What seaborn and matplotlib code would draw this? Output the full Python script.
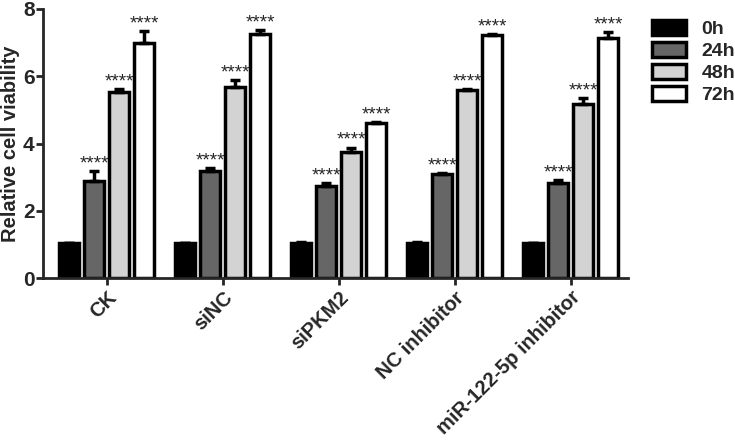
import pandas as pd
import seaborn as sns
import matplotlib.pyplot as plt

# values
groups = ['CK', 'siNC', 'siPKM2', 'NC inhibitor', 'miR-122-5p inhibitor']
times = ['0h', '24h', '48h', '72h']
v0h = [1.04, 1.04, 1.04, 1.04, 1.04]
v24h = [2.89, 3.17, 2.75, 3.10, 2.84]
v48h = [5.52, 5.68, 3.76, 5.58, 5.18]
v72h = [6.98, 7.26, 4.61, 7.23, 7.13]
e0h = [0.01, 0.01, 0.02, 0.02, 0.01]
e24h = [0.30, 0.10, 0.07, 0.03, 0.08]
e48h = [0.10, 0.21, 0.12, 0.05, 0.16]
e72h = [0.35, 0.12, 0.04, 0.03, 0.17]
stars = ['', '****', '****', '****']
colors = ['#000000', '#666666', '#d3d3d3', '#ffffff']

rows = []
for t, vals in zip(times, [v0h, v24h, v48h, v72h]):
    for g, v in zip(groups, vals):
        rows.append({'group': g, 'time': t, 'value': v})
df = pd.DataFrame(rows)
errs = [e0h, e24h, e48h, e72h]

sns.set_style('ticks')
plt.rcParams['font.family'] = ['Liberation Sans', 'DejaVu Sans']
plt.rcParams['font.weight'] = 'bold'

fig = plt.figure(figsize=(7.35, 4.45), dpi=100)
ax = fig.add_axes([0.0585, 0.375, 0.7955, 0.605])

sns.barplot(data=df, x='group', y='value', hue='time', palette=colors,
            width=0.86, gap=0.2, edgecolor='black', linewidth=2.5,
            errorbar=None, legend=False, ax=ax)

bar_sets = list(ax.containers)
for i, cont in enumerate(bar_sets):
    xs = [p.get_x() + p.get_width() / 2 for p in cont.patches]
    hs = [p.get_height() for p in cont.patches]
    ax.errorbar(xs, hs, yerr=[[0] * len(hs), errs[i]], fmt='none',
                ecolor='black', elinewidth=2.5, capsize=3.5, capthick=2.5,
                zorder=1)
    if stars[i]:
        for x, h, e in zip(xs, hs, errs[i]):
            ax.annotate(stars[i], (x, h + e), xytext=(0, -1),
                        textcoords='offset points', ha='center', va='bottom',
                        fontsize=13.5, fontweight='normal')

ax.set_xlim(-0.55, 4.49)
ax.set_ylim(0, 8)
ax.set_yticks([0, 2, 4, 6, 8])
ax.set_xlabel('')
ax.set_ylabel('Relative cell viability', fontsize=14.5, fontweight='bold',
              labelpad=2)
ax.tick_params(axis='y', labelsize=15, width=2, length=5, pad=1)
ax.tick_params(axis='x', labelsize=14.5, width=2, length=5, pad=2)
for lab in ax.get_xticklabels():
    lab.set_rotation(45)
    lab.set_ha('right')
    lab.set_rotation_mode('anchor')
    lab.set_fontweight('bold')
for lab in ax.get_yticklabels():
    lab.set_fontweight('bold')
sns.despine(ax=ax)
ax.spines['left'].set_linewidth(2)
ax.spines['bottom'].set_linewidth(2)

handles = [plt.Rectangle((0, 0), 1, 1, facecolor=c, edgecolor='black',
                         linewidth=2.5) for c in colors]
ax.legend(handles, times, loc='upper left', bbox_to_anchor=(0.887, 0.955),
          bbox_transform=fig.transFigure, frameon=False,
          prop={'weight': 'bold', 'size': 14}, handlelength=1.75,
          handleheight=0.8, labelspacing=0.2, handletextpad=0.8,
          borderaxespad=0, borderpad=0)

fig.savefig('out.png', dpi=100)
